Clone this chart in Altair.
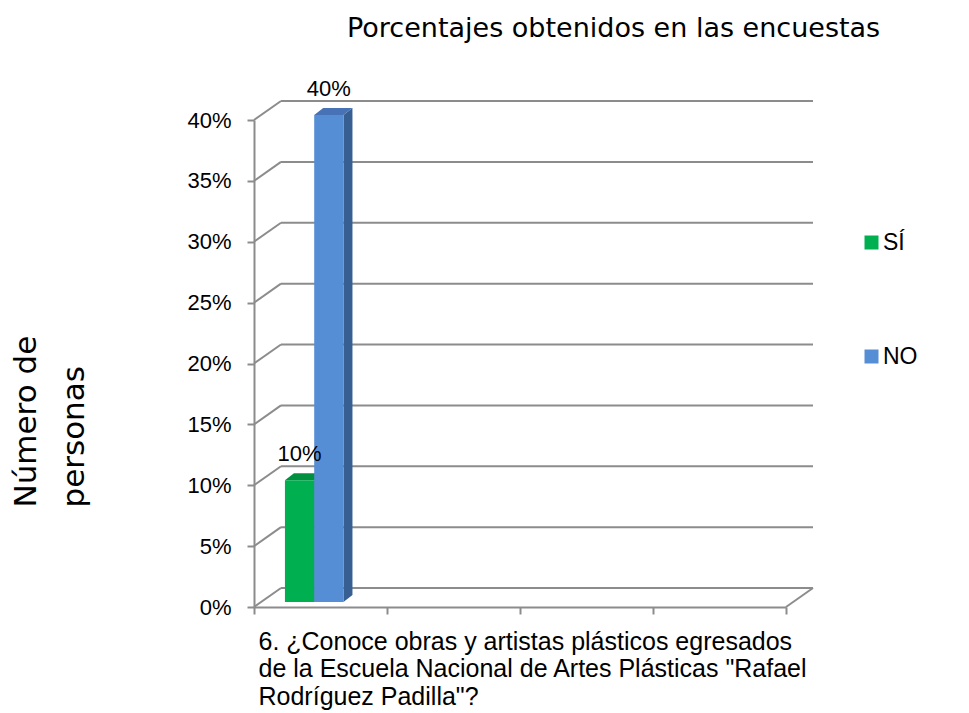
import altair as alt
import pandas as pd

# ---------------- data ----------------
CATEGORIES = ['6. ¿Conoce obras y artistas plásticos egresados']
QUESTION_LINES = ['6. ¿Conoce obras y artistas plásticos egresados',
                  'de la Escuela Nacional de Artes Plásticas "Rafael',
                  'Rodríguez Padilla"?']
SERIES = ['SÍ', 'NO']
SI_VALUES = [0.10]
NO_VALUES = [0.40]
Y_TICKS = [0.0, 0.05, 0.10, 0.15, 0.20, 0.25, 0.30, 0.35, 0.40]
N_SLOTS = 4
TITLE = 'Porcentajes obtenidos en las encuestas'
Y_TITLE = ['Número de', 'personas']

# ---------------- styles / layout ----------------
W, H = 532, 487
YMAX = 0.40
FRONT = {'SÍ': '#00B050', 'NO': '#558ED5'}
TOP = {'SÍ': '#00903F', 'NO': '#4773B6'}
SIDE = {'SÍ': '#007A36', 'NO': '#385F92'}
GRID = '#8C8C8C'
FONT = 'Liberation Sans'
GROUP_CENTER = 0.40   # fraction of a slot
BAR_W = 0.22          # fraction of a slot
DX = 9 * N_SLOTS / W  # bar depth, x
DY = 7 * YMAX / H     # bar depth, y
BAR_SHIFT = (7, -5)   # bars sit a little back in the depth

values = {'SÍ': SI_VALUES, 'NO': NO_VALUES}
rows = []
for ci, cat in enumerate(CATEGORIES):
    for si, s in enumerate(SERIES):
        left = ci + GROUP_CENTER + (si - 1) * BAR_W
        rows.append(dict(cat=cat, serie=s, value=values[s][ci], left=left,
                         right=left + BAR_W, center=left + BAR_W / 2,
                         top_color=TOP[s], side_color=SIDE[s]))
bars = pd.DataFrame(rows)

tops = []
sides = []
for r in rows:
    tops.append(dict(serie=r['serie'], y=r['value'], x=r['left'], x2=r['right'], c=r['top_color']))
    tops.append(dict(serie=r['serie'], y=r['value'] + DY, x=r['left'] + DX, x2=r['right'] + DX, c=r['top_color']))
    sides.append(dict(serie=r['serie'], x=r['right'], y=0.0, y2=r['value'], c=r['side_color']))
    sides.append(dict(serie=r['serie'], x=r['right'] + DX, y=DY, y2=r['value'] + DY, c=r['side_color']))
tops = pd.DataFrame(tops)
sides = pd.DataFrame(sides)

grid = pd.DataFrame({'level': Y_TICKS, 'x0': 0, 'x1': N_SLOTS})
diag = pd.DataFrame({'level': Y_TICKS + [0.0], 'x': [0] * len(Y_TICKS) + [N_SLOTS]})

xs = alt.Scale(domain=[0, N_SLOTS], nice=False, zero=False)
ys = alt.Scale(domain=[0, YMAX], nice=False)

back = alt.Chart(grid).mark_rule(color=GRID, strokeWidth=2, xOffset=27, x2Offset=27,
                                 yOffset=-19, y2Offset=-19).encode(
    x=alt.X('x0:Q', scale=xs, axis=alt.Axis(
        values=list(range(N_SLOTS + 1)), labels=False, grid=False, tickSize=7,
        tickColor=GRID, tickWidth=2, domainColor=GRID, domainWidth=2,
        title=QUESTION_LINES, titleFont=FONT, titleFontSize=25, titleFontWeight='normal',
        titleColor='#000', titleAlign='left', titleBaseline='alphabetic',
        titleX=4, titleY=42, titleLineHeight=27.5)),
    x2='x1:Q',
    y=alt.Y('level:Q', scale=ys, axis=alt.Axis(
        values=Y_TICKS, format='.0%', grid=False, tickSize=7, tickColor=GRID,
        tickWidth=2, domainColor=GRID, domainWidth=2, labelFont=FONT,
        labelFontSize=22, labelColor='#000', labelPadding=16,
        title=Y_TITLE, titleFont='DejaVu Sans', titleFontSize=31,
        titleFontWeight='normal', titleColor='#000', titleAngle=270,
        titleAlign='left', titleBaseline='alphabetic', titleX=-219, titleY=387,
        titleLineHeight=48)),
    y2='level:Q',
)

diags = alt.Chart(diag).mark_rule(color=GRID, strokeWidth=2, x2Offset=27, y2Offset=-19).encode(
    x=alt.X('x:Q', scale=xs), x2='x:Q', y=alt.Y('level:Q', scale=ys), y2='level:Q')

side = alt.Chart(sides).mark_area(orient='vertical', xOffset=BAR_SHIFT[0], x2Offset=BAR_SHIFT[0],
                                  yOffset=BAR_SHIFT[1], y2Offset=BAR_SHIFT[1]).encode(
    x=alt.X('x:Q', scale=xs), y=alt.Y('y:Q', scale=ys), y2='y2:Q',
    detail='serie:N', color=alt.Color('c:N', scale=None))

top = alt.Chart(tops).mark_area(orient='horizontal', xOffset=BAR_SHIFT[0], x2Offset=BAR_SHIFT[0],
                                yOffset=BAR_SHIFT[1], y2Offset=BAR_SHIFT[1]).encode(
    y=alt.Y('y:Q', scale=ys), x=alt.X('x:Q', scale=xs), x2='x2:Q',
    detail='serie:N', color=alt.Color('c:N', scale=None))

front = alt.Chart(bars).mark_bar(xOffset=BAR_SHIFT[0], x2Offset=BAR_SHIFT[0],
                                 yOffset=BAR_SHIFT[1], y2Offset=BAR_SHIFT[1], strokeWidth=0).encode(
    x=alt.X('left:Q', scale=xs), x2='right:Q',
    y=alt.Y('value:Q', scale=ys), y2=alt.datum(0),
    color=alt.Color('serie:N', scale=alt.Scale(domain=SERIES, range=[FRONT[s] for s in SERIES]),
                    legend=alt.Legend(orient='none', legendX=606, legendY=111, title=None,
                                      symbolType='square', symbolSize=196, symbolStrokeWidth=0,
                                      labelFont=FONT, labelFontSize=23, labelColor='#000',
                                      rowPadding=90, labelOffset=0, padding=0)))

labels = alt.Chart(bars).mark_text(font=FONT, fontSize=22, color='#000', baseline='alphabetic',
                                   dx=BAR_SHIFT[0], dy=BAR_SHIFT[1] - 19).encode(
    x=alt.X('center:Q', scale=xs), y=alt.Y('value:Q', scale=ys),
    text=alt.Text('value:Q', format='.0%'))

chart = alt.layer(back, diags, side, top, front, labels).properties(
    width=W, height=H,
    title=alt.TitleParams(text=TITLE, font='DejaVu Sans', fontSize=27, fontWeight='normal',
                          color='#000', anchor='start', dx=337, dy=-8, offset=0, baseline='bottom'),
    autosize=alt.AutoSizeParams(type='none'),
    padding={'left': 246, 'top': 112, 'right': 170, 'bottom': 106},
).configure_view(stroke=None)

chart.save('out.html', embed_options={'renderer': 'svg', 'actions': False})
